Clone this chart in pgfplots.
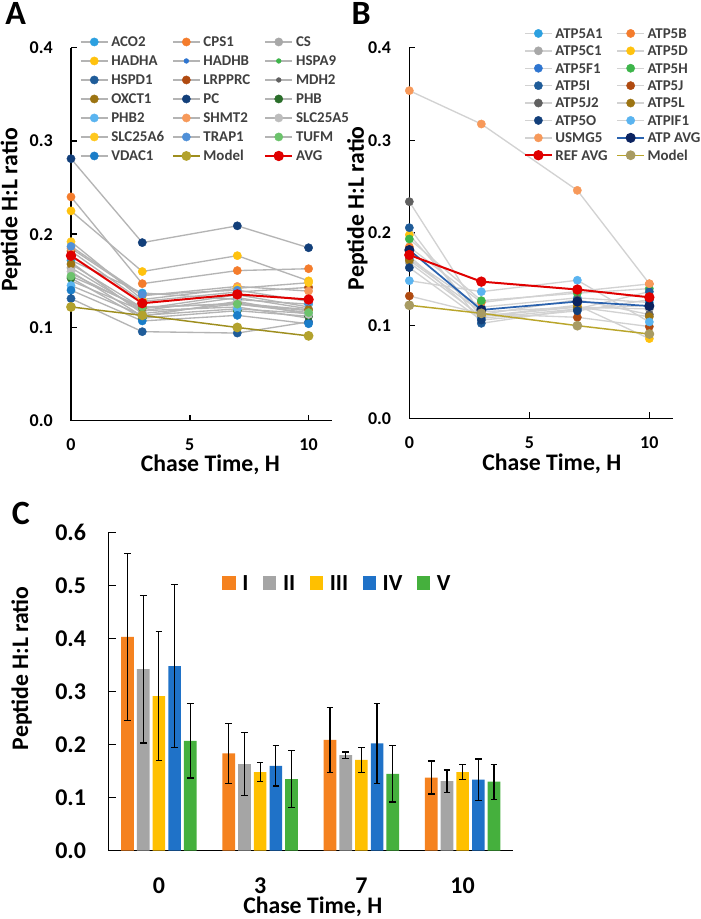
\documentclass[border=0pt]{standalone}
\usepackage{fontspec}
\setmainfont{Carlito}
\usepackage{pgfplots}
\pgfplotsset{compat=1.18}
\definecolor{gA}{HTML}{B4B4B4}
\definecolor{gB}{HTML}{D2D2D2}
\definecolor{legtxt}{HTML}{404040}
\definecolor{cSky}{HTML}{2CA0E0}
\definecolor{cOra}{HTML}{F47C2C}
\definecolor{cGry}{HTML}{A8A8A8}
\definecolor{cGld}{HTML}{FFC20E}
\definecolor{cBlu}{HTML}{2E75D0}
\definecolor{cGrn}{HTML}{3DB54A}
\definecolor{cDbl}{HTML}{1F5C99}
\definecolor{cRst}{HTML}{B04A10}
\definecolor{cDgy}{HTML}{606060}
\definecolor{cBrn}{HTML}{9C7412}
\definecolor{cNav}{HTML}{123F7A}
\definecolor{cDgn}{HTML}{2A6E2A}
\definecolor{cLbl}{HTML}{5AB4F0}
\definecolor{cSal}{HTML}{F7995A}
\definecolor{cLgy}{HTML}{BDBDBD}
\definecolor{cGl2}{HTML}{FFC81E}
\definecolor{cTrp}{HTML}{5090D8}
\definecolor{cTuf}{HTML}{6CC36C}
\definecolor{cVda}{HTML}{1A7DC8}
\definecolor{cMod}{HTML}{B3A22D}
\definecolor{cModL}{HTML}{9E8E1E}
\definecolor{cModB}{HTML}{A89B62}
\definecolor{cModBL}{HTML}{B9A52A}
\definecolor{cRed}{HTML}{E00000}
\definecolor{cAtpL}{HTML}{2A62AE}
\definecolor{cAtpM}{HTML}{0B2360}
\definecolor{cI}{HTML}{F5821F}
\definecolor{cII}{HTML}{A5A5A5}
\definecolor{cIII}{HTML}{FFC000}
\definecolor{cIV}{HTML}{1F72C8}
\definecolor{cV}{HTML}{45B03D}
\newcommand\lgA[1]{\addlegendentry{\makebox[42pt][l]{#1}}}
\pgfplotsset{
  common/.style={scale only axis, axis lines=left,
    axis line style={-, line width=1.1pt, black},
    tick style={line width=1.1pt, black}, tick align=inside,
    major tick length=4.5pt, clip=false,
    /pgf/number format/assume math mode=true,
    legend cell align=left,
    legend image code/.code={\draw[mark repeat=2,mark phase=2,##1] plot coordinates {(0pt,0pt) (10pt,0pt) (20pt,0pt)};},
  },
  pA/.style={draw=gA, line width=1pt, mark=*, mark size=3.1pt, mark options={draw=#1, fill=#1, line width=0.3pt}},
  pAs/.style={draw=gA, line width=1pt, mark=*, mark size=1.8pt, mark options={draw=#1, fill=#1, line width=0.3pt}},
  pB/.style={draw=gB, line width=1pt, mark=*, mark size=3.1pt, mark options={draw=#1, fill=#1, line width=0.3pt}},
  barst/.style={fill=#1, draw=none, legend image code/.code={\fill[fill=#1] (0pt,-5pt) rectangle (10pt,5pt);}},
  eb/.style={error bars/.cd, y dir=both, y explicit,
    error bar style={line width=0.9pt, black},
    error mark options={rotate=90, mark size=2.5pt, line width=0.9pt, black}},
}
\begin{document}
\begin{tikzpicture}
\path[use as bounding box, fill=white] (0pt,0pt) rectangle (525pt,689.25pt);
% ---------------- Panel A ----------------
\begin{axis}[common, at={(53.25pt,373.7pt)}, anchor=south west,
  width=196pt, height=279.75pt,
  xmin=0, xmax=11, ymin=0, ymax=0.4,
  xtick={0,5,10}, xticklabels={0,5,10},
  ytick={0,0.1,0.2,0.3,0.4}, yticklabels={0.0,0.1,0.2,0.3,0.4},
  tick label style={font=\bfseries\fontsize{13.5}{15}\selectfont},
  yticklabel style={anchor=east, inner sep=0pt, xshift=-13.5pt},
  xticklabel style={anchor=north, inner sep=0pt, yshift=-13.5pt},
  xlabel={Chase Time, H}, ylabel={Peptide H:L ratio},
  label style={font=\bfseries\fontsize{17.8}{20}\selectfont, inner sep=0pt},
  xlabel style={at={(axis description cs:0.533,-0.119)}, anchor=center},
  ylabel style={at={(axis description cs:-0.23,0.565)}, anchor=center},
  legend columns=3,
  legend style={draw=none, fill=none, at={(0.0345,1.029)}, anchor=north west,
    inner sep=0pt, row sep=7.05pt, text=legtxt,
    font=\bfseries\fontsize{11.2}{12}\selectfont,
    nodes={inner sep=0pt, text height=7.2pt, text depth=0pt},
    /tikz/every odd column/.append style={column sep=2.25pt},
    /tikz/every even column/.append style={column sep=3.75pt}},
]
\addplot[pA=cSky] coordinates {(0,0.172) (3,0.137) (7,0.130) (10,0.125)}; \lgA{ACO2}
\addplot[pA=cOra] coordinates {(0,0.240) (3,0.147) (7,0.161) (10,0.163)}; \lgA{CPS1}
\addplot[pA=cGry] coordinates {(0,0.164) (3,0.118) (7,0.132) (10,0.120)}; \lgA{CS}
\addplot[pA=cGld] coordinates {(0,0.225) (3,0.160) (7,0.177) (10,0.150)}; \lgA{HADHA}
\addplot[pAs=cBlu] coordinates {(0,0.170) (3,0.115) (7,0.125) (10,0.118)}; \lgA{HADHB}
\addplot[pAs=cGrn] coordinates {(0,0.150) (3,0.118) (7,0.122) (10,0.110)}; \lgA{HSPA9}
\addplot[pA=cDbl] coordinates {(0,0.131) (3,0.0955) (7,0.094) (10,0.106)}; \lgA{HSPD1}
\addplot[pA=cRst] coordinates {(0,0.182) (3,0.128) (7,0.138) (10,0.143)}; \lgA{LRPPRC}
\addplot[pAs=cDgy] coordinates {(0,0.158) (3,0.120) (7,0.135) (10,0.122)}; \lgA{MDH2}
\addplot[pA=cBrn] coordinates {(0,0.168) (3,0.121) (7,0.126) (10,0.119)}; \lgA{OXCT1}
\addplot[pA=cNav] coordinates {(0,0.281) (3,0.191) (7,0.209) (10,0.1855)}; \lgA{PC}
\addplot[pA=cDgn] coordinates {(0,0.153) (3,0.110) (7,0.118) (10,0.112)}; \lgA{PHB}
\addplot[pA=cLbl] coordinates {(0,0.145) (3,0.113) (7,0.120) (10,0.115)}; \lgA{PHB2}
\addplot[pA=cSal] coordinates {(0,0.185) (3,0.134) (7,0.144) (10,0.139)}; \lgA{SHMT2}
\addplot[pA=cLgy] coordinates {(0,0.160) (3,0.112) (7,0.128) (10,0.114)}; \lgA{SLC25A5}
\addplot[pA=cGl2] coordinates {(0,0.192) (3,0.130) (7,0.142) (10,0.148)}; \lgA{SLC25A6}
\addplot[pA=cTrp] coordinates {(0,0.187) (3,0.135) (7,0.140) (10,0.128)}; \lgA{TRAP1}
\addplot[pA=cTuf] coordinates {(0,0.155) (3,0.122) (7,0.125) (10,0.116)}; \lgA{TUFM}
\addplot[pA=cVda] coordinates {(0,0.140) (3,0.107) (7,0.113) (10,0.104)}; \lgA{VDAC1}
\addplot[draw=cModL, line width=1.1pt, mark=*, mark size=3.1pt, mark options={draw=cMod, fill=cMod}] coordinates {(0,0.122) (3,0.113) (7,0.100) (10,0.091)}; \lgA{Model}
\addplot[draw=cRed, line width=1.5pt, mark=*, mark size=3.1pt, mark options={draw=cRed, fill=cRed}] coordinates {(0,0.177) (3,0.126) (7,0.1355) (10,0.130)}; \lgA{AVG}
\end{axis}
% ---------------- Panel B ----------------
\begin{axis}[common, at={(307pt,375.5pt)}, anchor=south west,
  width=198pt, height=278pt,
  xmin=0, xmax=11, ymin=0, ymax=0.4,
  xtick={0,5,10}, xticklabels={0,5,10},
  ytick={0,0.1,0.2,0.3,0.4}, yticklabels={0.0,0.1,0.2,0.3,0.4},
  tick label style={font=\bfseries\fontsize{13.5}{15}\selectfont},
  yticklabel style={anchor=east, inner sep=0pt, xshift=-13.5pt},
  xticklabel style={anchor=north, inner sep=0pt, yshift=-13.5pt},
  xlabel={Chase Time, H}, ylabel={Peptide H:L ratio},
  label style={font=\bfseries\fontsize{17.8}{20}\selectfont, inner sep=0pt},
  xlabel style={at={(axis description cs:0.54,-0.123)}, anchor=center},
  ylabel style={at={(axis description cs:-0.197,0.567)}, anchor=center},
  legend columns=2,
  legend style={draw=none, fill=none, at={(0.4335,1.052)}, anchor=north west,
    inner sep=0pt, row sep=5.85pt, text=legtxt,
    font=\bfseries\fontsize{11.2}{12}\selectfont,
    nodes={inner sep=0pt, text height=7.2pt, text depth=0pt},
    /tikz/every odd column/.append style={column sep=2pt},
    /tikz/every even column/.append style={column sep=3.8pt}},
]
\addplot[pB=cSky] coordinates {(0,0.172) (3,0.120) (7,0.130) (10,0.125)}; \lgA{ATP5A1}
\addplot[pB=cOra] coordinates {(0,0.185) (3,0.125) (7,0.137) (10,0.145)}; \lgA{ATP5B}
\addplot[pB=cGry] coordinates {(0,0.168) (3,0.110) (7,0.120) (10,0.118)}; \lgA{ATP5C1}
\addplot[pB=cGld] coordinates {(0,0.198) (3,0.110) (7,0.122) (10,0.086)}; \lgA{ATP5D}
\addplot[pB=cBlu] coordinates {(0,0.175) (3,0.108) (7,0.118) (10,0.122)}; \lgA{ATP5F1}
\addplot[pB=cGrn] coordinates {(0,0.1935) (3,0.127) (7,0.135) (10,0.140)}; \lgA{ATP5H}
\addplot[pB=cDbl] coordinates {(0,0.2057) (3,0.1025) (7,0.118) (10,0.1367)}; \lgA{ATP5I}
\addplot[pB=cRst] coordinates {(0,0.132) (3,0.113) (7,0.109) (10,0.099)}; \lgA{ATP5J}
\addplot[pB=cDgy] coordinates {(0,0.2338) (3,0.112) (7,0.128) (10,0.112)}; \lgA{ATP5J2}
\addplot[pB=cBrn] coordinates {(0,0.1705) (3,0.115) (7,0.120) (10,0.1097)}; \lgA{ATP5L}
\addplot[pB=cNav] coordinates {(0,0.1626) (3,0.106) (7,0.116) (10,0.128)}; \lgA{ATP5O}
\addplot[pB=cLbl] coordinates {(0,0.1485) (3,0.1367) (7,0.149) (10,0.104)}; \lgA{ATPIF1}
\addplot[pB=cSal] coordinates {(0,0.3536) (3,0.3176) (7,0.246) (10,0.1453)}; \lgA{USMG5}
\addplot[draw=cAtpL, line width=1.3pt, mark=*, mark size=3.1pt, mark options={draw=cAtpM, fill=cAtpM}] coordinates {(0,0.1816) (3,0.117) (7,0.126) (10,0.1212)}; \lgA{ATP AVG}
\addplot[draw=cRed, line width=1.5pt, mark=*, mark size=3.1pt, mark options={draw=cRed, fill=cRed}] coordinates {(0,0.1763) (3,0.1475) (7,0.139) (10,0.1306)}; \lgA{REF AVG}
\addplot[draw=cModBL, line width=1.1pt, mark=*, mark size=3.1pt, mark options={draw=cModB, fill=cModB}] coordinates {(0,0.122) (3,0.1133) (7,0.100) (10,0.091)}; \lgA{Model}
\end{axis}
% ---------------- Panel C ----------------
\begin{axis}[common, at={(81.2pt,51.2pt)}, anchor=south west,
  width=303.75pt, height=238.8pt,
  xmin=-0.5, xmax=3.5, ymin=0, ymax=0.6,
  ybar=2.27pt, bar width=9.5pt,
  major tick length=6pt,
  xtick={0,1,2,3}, xticklabels={0,3,7,10}, xtick style={draw=none},
  ytick={0,0.1,0.2,0.3,0.4,0.5,0.6}, yticklabels={0.0,0.1,0.2,0.3,0.4,0.5,0.6},
  tick label style={font=\bfseries\fontsize{18}{20}\selectfont},
  yticklabel style={anchor=east, inner sep=0pt, xshift=-16.5pt},
  xticklabel style={anchor=north, inner sep=0pt, yshift=-14pt},
  xlabel={Chase Time, H}, ylabel={Peptide H:L ratio},
  label style={font=\bfseries\fontsize{17.8}{20}\selectfont, inner sep=0pt},
  xlabel style={at={(axis description cs:0.505,-0.177)}, anchor=center},
  ylabel style={at={(axis description cs:-0.214,0.573)}, anchor=center},
  legend columns=5,
  legend style={draw=none, fill=none, at={(0.281,0.841)}, anchor=west,
    inner sep=0pt, font=\bfseries\fontsize{17.25}{18}\selectfont,
    nodes={inner sep=0pt, text height=11.1pt, text depth=0pt},
    /tikz/every odd column/.append style={column sep=5pt},
    /tikz/every even column/.append style={column sep=10.9pt}},
]
\addplot[barst=cI, eb] coordinates {(0,0.403) +- (0,0.157) (1,0.1835) +- (0,0.0565) (2,0.209) +- (0,0.061) (3,0.138) +- (0,0.031)};
\addlegendentry{I}
\addplot[barst=cII, eb] coordinates {(0,0.342) +- (0,0.139) (1,0.163) +- (0,0.0595) (2,0.180) +- (0,0.006) (3,0.131) +- (0,0.021)};
\addlegendentry{II}
\addplot[barst=cIII, eb] coordinates {(0,0.2915) +- (0,0.1215) (1,0.148) +- (0,0.018) (2,0.171) +- (0,0.0235) (3,0.148) +- (0,0.0145)};
\addlegendentry{III}
\addplot[barst=cIV, eb] coordinates {(0,0.348) +- (0,0.154) (1,0.160) +- (0,0.038) (2,0.2025) +- (0,0.0755) (3,0.134) +- (0,0.039)};
\addlegendentry{IV}
\addplot[barst=cV, eb] coordinates {(0,0.207) +- (0,0.070) (1,0.135) +- (0,0.054) (2,0.145) +- (0,0.053) (3,0.130) +- (0,0.033)};
\addlegendentry{V}
\end{axis}
% panel letters
\node[anchor=base west, inner sep=0pt, font=\bfseries\fontsize{25.5}{28}\selectfont] at (3.75pt,670.5pt) {A};
\node[anchor=base west, inner sep=0pt, font=\bfseries\fontsize{25.5}{28}\selectfont] at (263.5pt,670.5pt) {B};
\node[anchor=base west, inner sep=0pt, font=\bfseries\fontsize{25.5}{28}\selectfont] at (8.8pt,295.5pt) {C};
\end{tikzpicture}
\end{document}
